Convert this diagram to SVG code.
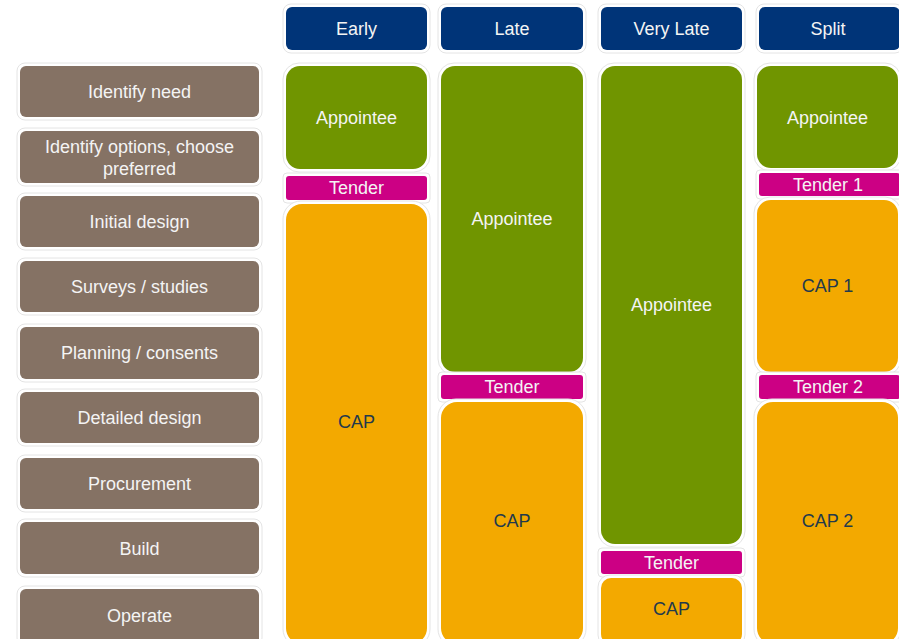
<svg xmlns="http://www.w3.org/2000/svg" width="899" height="639" viewBox="0 0 899 639">
  <style>
    text { font-family: "Liberation Sans", Arial, sans-serif; font-size: 18px; text-anchor: middle; }
    .halo { fill: #ffffff; stroke: #e4e4e4; stroke-width: 1; }
    .hdr { fill: #003478; }
    .stage { fill: #857264; }
    .appt { fill: #709500; }
    .tender { fill: #cc0084; }
    .cap { fill: #f3a900; }
    .lt { fill: #f4f4f4; }
    .dk { fill: #233a4c; }
  </style>
  <rect width="899" height="639" fill="#ffffff"/>

  <!-- column headers -->
  <g id="hdr-early">
    <rect class="halo" x="283" y="4" width="147" height="49" rx="8"/>
    <rect class="hdr" x="286" y="7" width="141" height="43" rx="6"/>
    <text class="lt" x="356.5" y="35">Early</text>
  </g>
  <g id="hdr-late">
    <rect class="halo" x="438" y="4" width="148" height="49" rx="8"/>
    <rect class="hdr" x="441" y="7" width="142" height="43" rx="6"/>
    <text class="lt" x="512" y="35">Late</text>
  </g>
  <g id="hdr-very-late">
    <rect class="halo" x="598" y="4" width="147" height="49" rx="8"/>
    <rect class="hdr" x="601" y="7" width="141" height="43" rx="6"/>
    <text class="lt" x="671.5" y="35">Very Late</text>
  </g>
  <g id="hdr-split">
    <rect class="halo" x="756" y="4" width="147" height="49" rx="8"/>
    <rect class="hdr" x="759" y="7" width="141" height="43" rx="6"/>
    <text class="lt" x="828" y="35">Split</text>
  </g>

  <!-- project stages -->
  <g id="stage-identify-need">
    <rect class="halo" x="17" y="63" width="245" height="57" rx="8"/>
    <rect class="stage" x="20" y="66" width="239" height="51" rx="6"/>
    <text class="lt" x="139.5" y="98">Identify need</text>
  </g>
  <g id="stage-options">
    <rect class="halo" x="17" y="128" width="245" height="58" rx="8"/>
    <rect class="stage" x="20" y="131" width="239" height="52" rx="6"/>
    <text class="lt" x="139.5" y="153">Identify options, choose</text>
    <text class="lt" x="139.5" y="175">preferred</text>
  </g>
  <g id="stage-initial-design">
    <rect class="halo" x="17" y="193" width="245" height="57" rx="8"/>
    <rect class="stage" x="20" y="196" width="239" height="51" rx="6"/>
    <text class="lt" x="139.5" y="228">Initial design</text>
  </g>
  <g id="stage-surveys">
    <rect class="halo" x="17" y="258" width="245" height="57" rx="8"/>
    <rect class="stage" x="20" y="261" width="239" height="51" rx="6"/>
    <text class="lt" x="139.5" y="293">Surveys / studies</text>
  </g>
  <g id="stage-planning">
    <rect class="halo" x="17" y="324" width="245" height="58" rx="8"/>
    <rect class="stage" x="20" y="327" width="239" height="52" rx="6"/>
    <text class="lt" x="139.5" y="359">Planning / consents</text>
  </g>
  <g id="stage-detailed-design">
    <rect class="halo" x="17" y="389" width="245" height="57" rx="8"/>
    <rect class="stage" x="20" y="392" width="239" height="51" rx="6"/>
    <text class="lt" x="139.5" y="424">Detailed design</text>
  </g>
  <g id="stage-procurement">
    <rect class="halo" x="17" y="455" width="245" height="57" rx="8"/>
    <rect class="stage" x="20" y="458" width="239" height="51" rx="6"/>
    <text class="lt" x="139.5" y="490">Procurement</text>
  </g>
  <g id="stage-build">
    <rect class="halo" x="17" y="519" width="245" height="58" rx="8"/>
    <rect class="stage" x="20" y="522" width="239" height="52" rx="6"/>
    <text class="lt" x="139.5" y="555">Build</text>
  </g>
  <g id="stage-operate">
    <rect class="halo" x="17" y="586" width="245" height="60" rx="8"/>
    <rect class="stage" x="20" y="589" width="239" height="56" rx="6"/>
    <text class="lt" x="139.5" y="622">Operate</text>
  </g>

  <!-- Early route -->
  <g id="early-appointee">
    <rect class="halo" x="283" y="63" width="147" height="109" rx="16"/>
    <rect class="appt" x="286" y="66" width="141" height="103" rx="14"/>
    <text class="lt" x="356.5" y="124">Appointee</text>
  </g>
  <g id="early-tender">
    <rect class="halo" x="283" y="173" width="147" height="30" rx="4"/>
    <rect class="tender" x="286" y="176" width="141" height="24" rx="3"/>
    <text class="lt" x="356.5" y="194">Tender</text>
  </g>
  <g id="early-cap">
    <rect class="halo" x="283" y="201" width="147" height="446" rx="18"/>
    <rect class="cap" x="286" y="204" width="141" height="440" rx="16"/>
    <text class="dk" x="356.5" y="428">CAP</text>
  </g>

  <!-- Late route -->
  <g id="late-appointee">
    <rect class="halo" x="438" y="63" width="148" height="312" rx="16"/>
    <rect class="appt" x="441" y="66" width="142" height="306" rx="14"/>
    <text class="lt" x="512" y="225">Appointee</text>
  </g>
  <g id="late-tender">
    <rect class="halo" x="438" y="372" width="148" height="30" rx="4"/>
    <rect class="tender" x="441" y="375" width="142" height="24" rx="3"/>
    <text class="lt" x="512" y="393">Tender</text>
  </g>
  <g id="late-cap">
    <rect class="halo" x="438" y="399" width="148" height="248" rx="18"/>
    <rect class="cap" x="441" y="402" width="142" height="242" rx="16"/>
    <text class="dk" x="512" y="527">CAP</text>
  </g>

  <!-- Very Late route -->
  <g id="very-late-appointee">
    <rect class="halo" x="598" y="63" width="147" height="484" rx="16"/>
    <rect class="appt" x="601" y="66" width="141" height="478" rx="14"/>
    <text class="lt" x="671.5" y="311">Appointee</text>
  </g>
  <g id="very-late-tender">
    <rect class="halo" x="598" y="548" width="147" height="29" rx="4"/>
    <rect class="tender" x="601" y="551" width="141" height="23" rx="3"/>
    <text class="lt" x="671.5" y="569">Tender</text>
  </g>
  <g id="very-late-cap">
    <rect class="halo" x="598" y="575" width="147" height="72" rx="12"/>
    <rect class="cap" x="601" y="578" width="141" height="66" rx="10"/>
    <text class="dk" x="671.5" y="615">CAP</text>
  </g>

  <!-- Split route -->
  <g id="split-appointee">
    <rect class="halo" x="754" y="63" width="147" height="108" rx="16"/>
    <rect class="appt" x="757" y="66" width="141" height="102" rx="14"/>
    <text class="lt" x="827.5" y="124">Appointee</text>
  </g>
  <g id="split-tender-1">
    <rect class="halo" x="756" y="170" width="147" height="29" rx="4"/>
    <rect class="tender" x="759" y="173" width="141" height="23" rx="3"/>
    <text class="lt" x="828" y="191">Tender 1</text>
  </g>
  <g id="split-cap-1">
    <rect class="halo" x="754" y="197" width="147" height="178" rx="16"/>
    <rect class="cap" x="757" y="200" width="141" height="172" rx="14"/>
    <text class="dk" x="827.5" y="292">CAP 1</text>
  </g>
  <g id="split-tender-2">
    <rect class="halo" x="756" y="372" width="147" height="30" rx="4"/>
    <rect class="tender" x="759" y="375" width="141" height="24" rx="3"/>
    <text class="lt" x="828" y="393">Tender 2</text>
  </g>
  <g id="split-cap-2">
    <rect class="halo" x="754" y="399" width="147" height="248" rx="18"/>
    <rect class="cap" x="757" y="402" width="141" height="242" rx="16"/>
    <text class="dk" x="827.5" y="527">CAP 2</text>
  </g>
</svg>
